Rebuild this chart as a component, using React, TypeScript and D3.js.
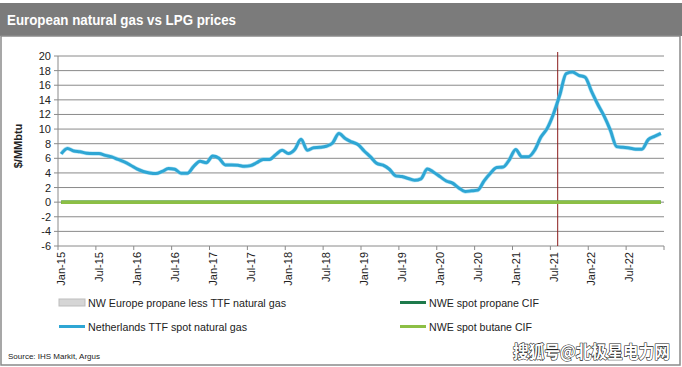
import React from "react";
import * as d3 from "d3";

const title = "European natural gas vs LPG prices";
const yTicks = [-6, -4, -2, 0, 2, 4, 6, 8, 10, 12, 14, 16, 18, 20];
const startMonth = new Date(2015, 0, 1);
const endMonth = new Date(2023, 0, 1);
const months: string[] = d3.timeMonth.range(startMonth, endMonth).map(d3.timeFormat("%b-%y"));
const xLabels = ["Jan-15","Jul-15","Jan-16","Jul-16","Jan-17","Jul-17","Jan-18","Jul-18","Jan-19","Jul-19","Jan-20","Jul-20","Jan-21","Jul-21","Jan-22","Jul-22"];
const markerMonth = "Aug-21";

// Netherlands TTF spot natural gas ($/MMbtu), monthly Jan-15 .. Dec-22
const ttf = [
  6.6, 7.35, 7.0, 6.9, 6.7, 6.65, 6.65, 6.4, 6.2, 5.85, 5.5, 5.05,
  4.55, 4.2, 4.0, 3.92, 4.2, 4.6, 4.5, 3.95, 3.95, 4.9, 5.6, 5.4,
  6.3, 6.0, 5.1, 5.1, 5.05, 4.9, 5.0, 5.4, 5.85, 5.85, 6.5, 7.1,
  6.66, 7.2, 8.6, 7.1, 7.45, 7.5, 7.65, 8.1, 9.4, 8.7, 8.25, 7.9,
  7.0, 6.2, 5.3, 5.06, 4.5, 3.6, 3.5, 3.24, 3.0, 3.2, 4.55, 4.1,
  3.5, 2.9, 2.6, 1.95, 1.45, 1.55, 1.65, 2.9, 3.95, 4.74, 4.8, 5.8,
  7.2, 6.2, 6.2, 7.1, 8.9, 10.1, 12.1, 14.7, 17.6, 17.8, 17.35, 17.1,
  15.2, 13.4, 11.8, 9.85, 7.6, 7.5, 7.4, 7.25, 7.25, 8.55, 9.0, 9.4,
];
// NWE spot propane / butane CIF (drawn at zero in the source)
const propane = [
  0,0,0,0,0,0,0,0,0,0,0,0, 0,0,0,0,0,0,0,0,0,0,0,0,
  0,0,0,0,0,0,0,0,0,0,0,0, 0,0,0,0,0,0,0,0,0,0,0,0,
  0,0,0,0,0,0,0,0,0,0,0,0, 0,0,0,0,0,0,0,0,0,0,0,0,
  0,0,0,0,0,0,0,0,0,0,0,0, 0,0,0,0,0,0,0,0,0,0,0,0,
];
const butane = [
  0,0,0,0,0,0,0,0,0,0,0,0, 0,0,0,0,0,0,0,0,0,0,0,0,
  0,0,0,0,0,0,0,0,0,0,0,0, 0,0,0,0,0,0,0,0,0,0,0,0,
  0,0,0,0,0,0,0,0,0,0,0,0, 0,0,0,0,0,0,0,0,0,0,0,0,
  0,0,0,0,0,0,0,0,0,0,0,0, 0,0,0,0,0,0,0,0,0,0,0,0,
];
const legendLabels = [
  "NW Europe propane less TTF natural gas",
  "NWE spot propane CIF",
  "Netherlands TTF spot natural gas",
  "NWE spot butane CIF",
];
const sourceText = "Source: IHS Markit, Argus";
const watermark = "搜狐号@北极星电力网";

const W = 682, H = 367;
const left = 58, right = 664, top = 56, bottom = 246;

export default function App() {
  const x = d3.scaleBand<string>().domain(months).range([left, right]).padding(0);
  const y = d3.scaleLinear().domain([-6, 20]).range([bottom, top]);
  const cx = (i: number) => (x(months[i]) as number) + x.bandwidth() / 2;
  const line = d3.line<number>().x((_, i) => cx(i)).y((v) => y(v)).curve(d3.curveMonotoneX);
  const font = "'Liberation Sans', Arial, sans-serif";
  const tickIdx = months.map((m, i) => i).filter((i) => i % 6 === 0);
  const markerX = (x(markerMonth) as number) + 1;

  return (
    <svg width={W} height={H} style={{ position: "absolute", left: 0, top: 0, background: "#fff" }}>
      <rect x={0} y={0} width={W} height={H} fill="#fff" />
      <rect x={0} y={3} width={W} height={33} fill="#7b7b7b" />
      <text x={7} y={25} fill="#fff" fontFamily={font} fontWeight="bold" fontSize={14} textLength={229} lengthAdjust="spacingAndGlyphs">{title}</text>
      <rect x={1} y={36} width={679} height={329} fill="none" stroke="#8a8a8a" strokeWidth={1.5} />

      {yTicks.map((t) => (
        <g key={t}>
          <line x1={left - 4} x2={right} y1={y(t)} y2={y(t)} stroke="#8a8a8a" strokeWidth={1} />
          <text x={51} y={y(t) + 4} textAnchor="end" fontFamily={font} fontSize={11} fill="#222">{t}</text>
        </g>
      ))}
      <line x1={left} x2={left} y1={top} y2={bottom} stroke="#8a8a8a" strokeWidth={1} />
      {tickIdx.map((i) => (
        <line key={i} x1={x(months[i])} x2={x(months[i])} y1={bottom} y2={bottom + 4} stroke="#8a8a8a" />
      ))}
      <line x1={right} x2={right} y1={bottom} y2={bottom + 4} stroke="#8a8a8a" />
      {xLabels.map((m) => {
        const px = (x(m) as number) + x.bandwidth() / 2 + 4;
        return (
          <text key={m} transform={`translate(${px},${bottom + 6}) rotate(-90)`} textAnchor="end" fontFamily={font} fontSize={11} fill="#222">{m}</text>
        );
      })}
      <text transform={`translate(22,146) rotate(-90)`} textAnchor="middle" fontFamily={font} fontSize={11} fontWeight="bold" fill="#222">$/MMbtu</text>

      <line x1={markerX} x2={markerX} y1={top - 4} y2={bottom} stroke="#8b1c1c" strokeWidth={1} />

      <path d={line(propane) || ""} fill="none" stroke="#1e7a4c" strokeWidth={3.5} />
      <path d={line(butane) || ""} fill="none" stroke="#8cbf45" strokeWidth={3.5} />
      <path d={line(ttf) || ""} fill="none" stroke="#7fd0ec" strokeWidth={4.2} strokeLinejoin="round" opacity={0.6} />
      <path d={line(ttf) || ""} fill="none" stroke="#2ea6d4" strokeWidth={3} strokeLinejoin="round" />

      {/* legend */}
      <rect x={59} y={299} width={26} height={7} fill="#d6d6d6" stroke="#bdbdbd" />
      <text x={88} y={307} fontFamily={font} fontSize={11} fill="#222" textLength={198} lengthAdjust="spacingAndGlyphs">{legendLabels[0]}</text>
      <line x1={400} x2={426} y1={302.5} y2={302.5} stroke="#1e7a4c" strokeWidth={3} />
      <text x={429} y={307} fontFamily={font} fontSize={11} fill="#222" textLength={110} lengthAdjust="spacingAndGlyphs">{legendLabels[1]}</text>
      <line x1={59} x2={85} y1={326.5} y2={326.5} stroke="#2ea6d4" strokeWidth={3} />
      <text x={88} y={331} fontFamily={font} fontSize={11} fill="#222" textLength={159} lengthAdjust="spacingAndGlyphs">{legendLabels[2]}</text>
      <line x1={400} x2={426} y1={326.5} y2={326.5} stroke="#8cbf45" strokeWidth={3} />
      <text x={429} y={331} fontFamily={font} fontSize={11} fill="#222" textLength={103} lengthAdjust="spacingAndGlyphs">{legendLabels[3]}</text>

      <text x={8} y={359} fontFamily={font} fontSize={8} fill="#222" textLength={92} lengthAdjust="spacingAndGlyphs">{sourceText}</text>
      <text x={513} y={358} fontFamily="'Noto Sans CJK SC', sans-serif" fontSize={17} fontWeight="bold" fill="#fff" stroke="#222" strokeWidth={1.2} paintOrder="stroke" textLength={157} lengthAdjust="spacingAndGlyphs">{watermark}</text>
    </svg>
  );
}
